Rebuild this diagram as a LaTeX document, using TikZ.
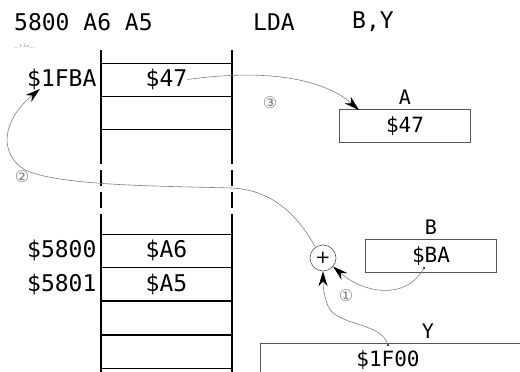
\documentclass[tikz,border=0pt]{standalone}
\usepackage{fontspec}
\setmonofont{DejaVu Sans Mono}
\newfontfamily\circfont{DejaVu Sans}
\usepackage{tikz}
\usetikzlibrary{calc,positioning,arrows.meta}
\definecolor{wiregray}{HTML}{7F7F7F}
\definecolor{boxgray}{HTML}{555555}

\tikzset{
  code/.style={font=\ttfamily\fontsize{23}{26}\selectfont, inner sep=0pt},
  cell/.style={draw, line width=0.8pt, minimum width=131pt, minimum height=33pt,
               inner sep=0pt, font=\ttfamily\fontsize{23}{26}\selectfont},
  reg/.style={draw=boxgray, line width=0.7pt, minimum width=131pt, minimum height=33pt,
              inner sep=0pt, font=\ttfamily\fontsize{21}{24}\selectfont},
  reglabel/.style={font=\ttfamily\fontsize{20}{22}\selectfont, inner sep=0pt},
  wire/.style={draw=wiregray, line width=0.6pt, -{Stealth[length=15pt,width=9pt,black]}},
  circnum/.style={text=gray, inner sep=0pt, font=\circfont\fontsize{16}{16}\selectfont}
}

\begin{document}
\begin{tikzpicture}[x=1pt,y=-1pt]
    \fill[white] (0,0) rectangle (520,372);
    \useasboundingbox (0,0) rectangle (520,372);
    \clip (0,0) rectangle (520,372);

    % instruction line
    \node[code, anchor=west] (hexdump) at (14,22) {5800 A6 A5};
    \node[code, anchor=west] (mnemonic) at (253,22) {LDA};
    \node[code, anchor=west] (operand) at (352,22) {B,Y};
    \node[text=gray, inner sep=0pt, anchor=west, font=\fontsize{5}{5}\selectfont] (tag) at (14,46) {\_11a\_};

    % memory column
    \foreach \x in {101,232} {
      \draw[line width=1.2pt] (\x,50) -- (\x,148);
      \draw[line width=1.2pt, dash pattern=on 16pt off 6pt] (\x,148) -- (\x,217);
      \draw[line width=1.2pt] (\x,217) -- (\x,380);
    }
    \node[cell] (cell1) at (166.5,79.5) {\$47};
    \node[cell, below=0pt of cell1] (cell2) {};
    \node[cell] (cell3) at (166.5,250.5) {\$A6};
    \node[cell, below=0pt of cell3] (cell4) {\$A5};
    \node[cell, below=0pt of cell4] (cell5) {};
    \node[cell, below=0pt of cell5] (cell6) {};

    \node[code, left=4pt of cell1] (addrFBA) {\$1FBA};
    \node[code, left=4pt of cell3] (addr5800) {\$5800};
    \node[code, left=4pt of cell4] (addr5801) {\$5801};

    % registers
    \node[reg] (regA) at (405,126) {\$47};
    \node[reglabel, above=4pt of regA] (labA) {A};
    \node[reg] (regB) at (431,256) {\$BA};
    \node[reglabel, above=4pt of regB] (labB) {B};
    \node[reg, anchor=north west, minimum width=300pt, minimum height=40pt] (regY) at (260,343) {};
    \node[reg, draw=none] (valY) at (388,360) {\$1F00};
    \node[reglabel] (labY) at (428,331) {Y};

    \node[draw=boxgray, circle, line width=0.6pt, minimum size=26pt, inner sep=0pt,
          font=\circfont\fontsize{18}{18}\selectfont] (plus) at (323,258) {+};

    \coordinate (dotB) at (424,268);
    \coordinate (dotY) at (388,345);
    \coordinate (tipA) at (359,110);
    \coordinate (tipFBA) at (40,89);
    \fill (dotB) circle (1.2pt);
    \fill (dotY) circle (1.2pt);

    % step 1: B + Y
    \draw[wire] (dotY) .. controls (382,322) and (336,326) .. (328,306)
                       .. controls (324,296) and (323,286) .. (plus.south);
    \draw[wire] (dotB) .. controls (405,302) and (362,292) .. (plus.-40);
    % step 2: effective address
    \draw[wire] (plus.125) .. controls (296,212) and (270,190) .. (232,188)
                           .. controls (160,186) and (60,186) .. (25,170)
                           .. controls (0,155) and (0,122) .. (tipFBA);
    % step 3: load into A
    \draw[wire] ($(cell1.center)+(21,0)$) .. controls (270,68) and (325,80) .. (tipA);

    \node[circnum] (num1) at (346,296) {①};
    \node[circnum] (num2) at (22,177) {②};
    \node[circnum] (num3) at (270,103) {③};
\end{tikzpicture}
\end{document}
